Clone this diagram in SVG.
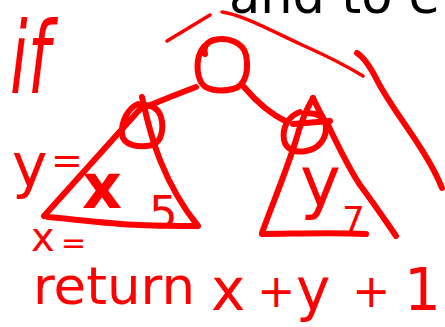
<svg xmlns="http://www.w3.org/2000/svg" width="445" height="327" viewBox="0 0 445 327">
<style>
.ink{fill:none;stroke:#ff0000;stroke-width:6;stroke-linecap:round;stroke-linejoin:round}
.thin{stroke-width:3.5}
.hw{fill:#ff0000;font-family:"DejaVu Sans",sans-serif}
.title{fill:#000;font-family:"DejaVu Sans",sans-serif;font-size:51px}
</style>
<rect width="445" height="327" fill="#fff"/>
<text class="title" x="229" y="12.5">and to e</text>
<g id="annotations">
<path class="ink thin" d="M167,41 L210,15"/>
<path class="ink thin" d="M222,12 C240,14 270,30 300,44 C325,55 345,65 363,76"/>
<path class="ink" d="M357,53 C365,58 372,70 378,82 C390,105 410,130 425,155 C433,168 438,178 442,188"/>
<text class="hw" x="10" y="93" font-size="100" font-style="italic" textLength="40" lengthAdjust="spacingAndGlyphs">if</text>
</g>
<g id="connectors">
<path class="ink" d="M196,87 C180,93 165,99 148,106"/>
<path class="ink" d="M244,87 C255,100 268,113 287,122"/>
</g>
<g id="root">
<path class="ink" d="M205,54 C203,47 207,42 214,40 C228,37 243,42 246,55 C249,70 246,86 233,89 C220,92 204,91 200,80 C196,70 196,52 207,44"/>
</g>
<g id="left-subtree">
<path class="ink" d="M138,104 C128,108 121,122 122,134 C123,146 140,148 152,145 C162,142 164,128 161,117 C158,107 148,103 141,107"/>
<path class="ink" d="M141,108 L44,216"/>
<path class="ink" d="M142,97 C146,115 150,135 160,160 C172,190 185,210 198,226"/>
<path class="ink" d="M48,217 C80,220 110,224 140,225 C165,226 185,226 197,226"/>
<text class="hw" x="12" y="186" font-size="60">y</text>
<text class="hw" x="51" y="173" font-size="38">=</text>
<text class="hw" x="82" y="208" font-size="62" font-weight="bold">x</text>
<text class="hw" x="149" y="228" font-size="45">5</text>
</g>
<g id="right-subtree">
<path class="ink" d="M300,112 C288,116 282,128 284,140 C286,150 296,153 306,151 C318,149 326,140 326,128 C326,118 318,113 306,113"/>
<path class="ink" d="M293,124 L330,121"/>
<path class="ink" d="M313,98 C306,110 300,125 296,140 C285,175 270,210 262,233"/>
<path class="ink" d="M313,98 C318,108 322,118 328,125 C340,150 350,170 360,185 C375,205 385,220 396,236"/>
<path class="ink" d="M262,234 C290,234 330,232 366,234"/>
<text class="hw" x="300" y="206" font-size="69">y</text>
<text class="hw" x="342" y="232" font-size="36">7</text>
</g>
<g id="return-line">
<text class="hw" x="31" y="251" font-size="40">x</text>
<text class="hw" x="61" y="253" font-size="30">=</text>
<text class="hw" x="33" y="304" font-size="52" textLength="162" lengthAdjust="spacingAndGlyphs">return</text>
<text class="hw" y="310" font-size="58"><tspan x="211">x</tspan><tspan x="257" font-size="46" dy="-3">+</tspan><tspan x="296" dy="3">y</tspan><tspan x="352" font-size="46" dy="-3">+</tspan><tspan x="404" dy="3">1</tspan></text>
</g>
</svg>
